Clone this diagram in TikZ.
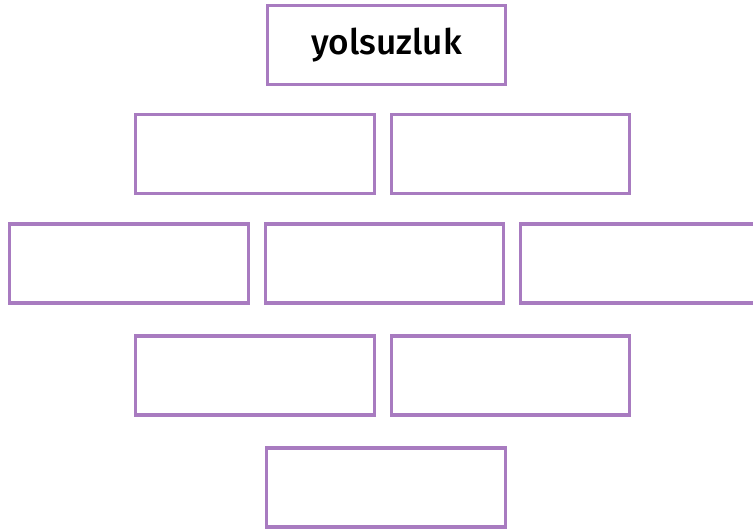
\documentclass[tikz,border=0pt]{standalone}
\usepackage{fontspec}
\setmainfont{Fira Sans}[BoldFont={Fira Sans Medium}]
\usetikzlibrary{positioning}
\definecolor{boxpurple}{HTML}{A87BC0}

\begin{document}
\begin{tikzpicture}[
    node distance=0.6cm and 0.34cm,
    every node/.style={draw=boxpurple, line width=1.8pt, fill=white, inner sep=0pt, outer sep=0pt, minimum width=4.77cm, minimum height=1.58cm, font=\fontsize{20}{24}\selectfont\bfseries}
]
\useasboundingbox (0,0) rectangle (15.06,-10.62);

% Nodes
\node (top) at (7.73,-0.90) {yolsuzluk};
\node (ikiA) at (5.10,-3.08) {};
\node (ikiB) [right=of ikiA] {};
\node (ucA) at (2.58,-5.27) {};
\node (ucB) [right=of ucA] {};
\node (ucC) [right=of ucB] {};
\node (dortA) at (5.10,-7.51) {};
\node (dortB) [right=of dortA] {};
\node (bes) at (7.72,-9.75) {};

\end{tikzpicture}
\end{document}
